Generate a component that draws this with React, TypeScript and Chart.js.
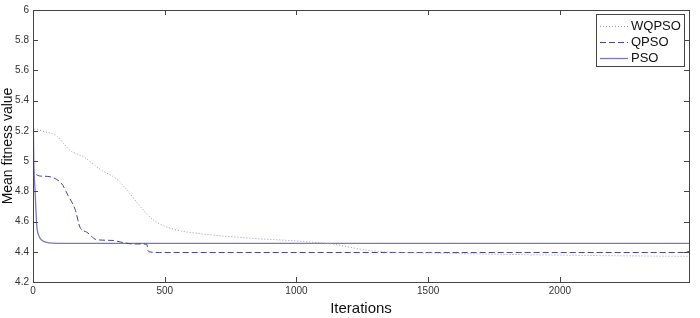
import React, { useEffect, useRef } from "react";
import { Chart, registerables } from "chart.js";

Chart.register(...registerables);

const X_MAX = 2490;
const xTickValues = [0, 500, 1000, 1500, 2000];
const yTickValues = [4.2, 4.4, 4.6, 4.8, 5, 5.2, 5.4, 5.6, 5.8, 6];
const seriesNames = ["WQPSO", "QPSO", "PSO"];

const wqpsoIter = [0, 2, 10, 38, 90, 141, 190, 255, 318, 356, 407, 457, 533, 635, 824, 1014, 1140, 1268, 1400, 1520, 1774, 2000, 2250, 2490];
const wqpsoVal = [5.47, 5.222, 5.21, 5.198, 5.165, 5.07, 5.03, 4.945, 4.88, 4.81, 4.7, 4.61, 4.55, 4.52, 4.49, 4.47, 4.45, 4.41, 4.395, 4.392, 4.383, 4.378, 4.373, 4.37];

const qpsoIter = [0, 2, 39, 77, 109, 134, 160, 179, 204, 242, 304, 331, 380, 432, 436, 440, 480, 1000, 1500, 2000, 2470, 2490];
const qpsoVal = [5.38, 4.93, 4.9, 4.89, 4.85, 4.77, 4.68, 4.56, 4.53, 4.48, 4.475, 4.465, 4.452, 4.45, 4.41, 4.4, 4.395, 4.395, 4.395, 4.395, 4.395, 4.402];

const psoIter = [0, 3, 8, 14, 24, 35, 52, 100, 500, 1000, 2490];
const psoVal = [5.4, 5.0, 4.8, 4.58, 4.5, 4.475, 4.462, 4.456, 4.455, 4.455, 4.455];

const toPoints = (xs: number[], ys: number[]) => xs.map((x, i) => ({ x, y: ys[i] }));

const FONT = "'Liberation Sans', Arial, sans-serif";

const frameAndLegend = {
  id: "frameAndLegend",
  afterDraw(chart: any) {
    const { ctx, chartArea } = chart;
    const { left, right, top, bottom } = chartArea;
    const xs = chart.scales.x;
    const ys = chart.scales.y;
    ctx.save();
    ctx.strokeStyle = "#444";
    ctx.lineWidth = 1;
    ctx.setLineDash([]);
    ctx.strokeRect(Math.round(left) + 0.5, Math.round(top) + 0.5, Math.round(right - left), Math.round(bottom - top));
    ctx.beginPath();
    const tl = 5;
    xTickValues.forEach((v) => {
      const px = Math.round(xs.getPixelForValue(v)) + 0.5;
      ctx.moveTo(px, bottom);
      ctx.lineTo(px, bottom - tl);
      ctx.moveTo(px, top);
      ctx.lineTo(px, top + tl);
    });
    yTickValues.forEach((v) => {
      const py = Math.round(ys.getPixelForValue(v)) + 0.5;
      ctx.moveTo(left, py);
      ctx.lineTo(left + tl, py);
      ctx.moveTo(right, py);
      ctx.lineTo(right - tl, py);
    });
    ctx.stroke();

    // legend
    const bx = 596, by = 14, bw = 88, bh = 52;
    ctx.fillStyle = "#fff";
    ctx.fillRect(bx, by, bw, bh);
    ctx.strokeStyle = "#444";
    ctx.strokeRect(bx + 0.5, by + 0.5, bw, bh);
    ctx.font = "13px " + FONT;
    ctx.textBaseline = "middle";
    chart.data.datasets.forEach((ds: any, i: number) => {
      const y = by + 11.5 + i * 16;
      ctx.strokeStyle = ds.borderColor;
      ctx.lineWidth = ds.borderWidth;
      ctx.setLineDash(ds.borderDash || []);
      ctx.beginPath();
      ctx.moveTo(600, Math.round(y) + 0.5);
      ctx.lineTo(628, Math.round(y) + 0.5);
      ctx.stroke();
      ctx.setLineDash([]);
      ctx.fillStyle = "#111";
      ctx.fillText(ds.label, 631, y + 0.5);
    });
    ctx.restore();
  },
};

export default function App() {
  const ref = useRef<HTMLCanvasElement>(null);
  useEffect(() => {
    const chart = new Chart(ref.current as HTMLCanvasElement, {
      type: "line",
      data: {
        datasets: [
          {
            label: seriesNames[0],
            data: toPoints(wqpsoIter, wqpsoVal),
            borderColor: "#9a98b8",
            borderWidth: 1,
            borderDash: [1, 2],
            pointRadius: 0,
            cubicInterpolationMode: "monotone",
          },
          {
            label: seriesNames[1],
            data: toPoints(qpsoIter, qpsoVal),
            borderColor: "#45459a",
            borderWidth: 1,
            borderDash: [6, 3],
            pointRadius: 0,
            cubicInterpolationMode: "monotone",
          },
          {
            label: seriesNames[2],
            data: toPoints(psoIter, psoVal),
            borderColor: "#7a78c0",
            borderWidth: 1.3,
            pointRadius: 0,
            cubicInterpolationMode: "monotone",
          },
        ],
      },
      options: {
        animation: false,
        responsive: false,
        maintainAspectRatio: false,
        layout: { padding: { top: 10, right: 11, left: 0, bottom: 0 } },
        plugins: { legend: { display: false }, tooltip: { enabled: false } },
        scales: {
          x: {
            type: "linear",
            min: 0,
            max: X_MAX,
            afterBuildTicks: (s: any) => {
              s.ticks = xTickValues.map((v) => ({ value: v }));
            },
            afterFit: (s: any) => {
              s.height = 36;
            },
            grid: { display: false, drawTicks: false },
            border: { display: false },
            ticks: {
              font: { family: FONT, size: 10 },
              color: "#333",
              padding: 3,
              maxRotation: 0,
              callback: (v: any) => String(v),
            },
            title: {
              display: true,
              text: "Iterations",
              font: { family: FONT, size: 15 },
              color: "#111",
              padding: { top: 0, bottom: 0 },
            },
          },
          y: {
            type: "linear",
            min: 4.2,
            max: 6,
            afterBuildTicks: (s: any) => {
              s.ticks = yTickValues.map((v) => ({ value: v }));
            },
            afterFit: (s: any) => {
              s.width = 33;
            },
            grid: { display: false, drawTicks: false },
            border: { display: false },
            ticks: {
              font: { family: FONT, size: 10 },
              color: "#333",
              padding: 4,
              callback: (v: any) => String(Math.round(Number(v) * 10) / 10),
            },
            title: {
              display: true,
              text: "Mean fitness value",
              font: { family: FONT, size: 14 },
              color: "#111",
              padding: { top: 0, bottom: 0 },
            },
          },
        },
      },
      plugins: [frameAndLegend],
    } as any);
    return () => chart.destroy();
  }, []);
  return (
    <div style={{ position: "fixed", left: 0, top: 0, width: 700, height: 318, background: "#fff" }}>
      <canvas ref={ref} width={700} height={318} style={{ display: "block" }} />
    </div>
  );
}
